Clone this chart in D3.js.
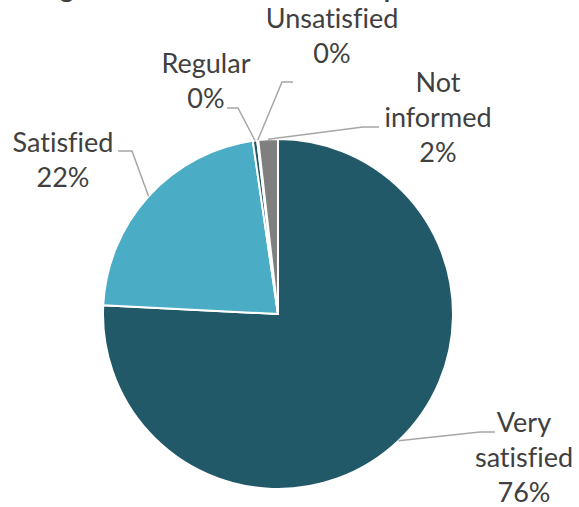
<!DOCTYPE html>
<html>
<head>
<meta charset="utf-8">
<script src="https://cdn.jsdelivr.net/npm/d3@7"></script>
<style>
  html, body { margin: 0; padding: 0; background: #fff; }
  svg { display: block; }
  text { font-variant-ligatures: none; font-feature-settings: "liga" 0; }
</style>
</head>
<body>
<svg id="chart" width="579" height="507"></svg>
<script>
// ---- data ----
const categories = ["Very satisfied", "Satisfied", "Regular", "Unsatisfied", "Not informed"];
const values = [75.8, 21.9, 0.4, 0.1, 1.8];
const colors = ["#215968", "#4bacc6", "#215968", "#a5a5a5", "#7f7f7f"];
const labelLines = [["Very", "satisfied"], ["Satisfied"], ["Regular"], ["Unsatisfied"], ["Not", "informed"]];
const titleText = "Degree of satisfaction with the process";

// ---- layout (label placement) ----
const labelCenter = [[524, 432], [63, 152], [206, 73], [332, 28], [438, 92]];
const leaderStart = [[495, 432], [118, 151], [227, 108], [293, 82], [379, 127]];
const leaderElbow = [480, 132, 238, 282, 363];

const W = 579, H = 507;
const cx = 278, cy = 314, R = 175;
const lineH = 35;
const font = "Lato, 'Open Sans', sans-serif";
const textColor = "#404040";

const svg = d3.select("#chart");

// Title (mostly above the visible frame, as in the reference)
const title = svg.append("text")
  .attr("font-family", font)
  .attr("font-weight", "bold")
  .attr("font-size", 30)
  .attr("fill", textColor)
  .attr("x", 0).attr("y", -2)
  .text(titleText);
(function fitTitle() {
  const node = title.node();
  const gi = titleText.indexOf("g");
  const pi = titleText.indexOf("p");
  const gx = node.getStartPositionOfChar(gi).x;
  const px = node.getStartPositionOfChar(pi).x;
  const scale = (390 - 66) / (px - gx);
  title.attr("font-size", 30 * scale);
  const gx2 = node.getStartPositionOfChar(gi).x;
  title.attr("x", 60 - gx2);
})();

const total = d3.sum(values);
const pie = d3.pie().sort(null).value(d => d);
const arcs = pie(values);
const arc = d3.arc().innerRadius(0).outerRadius(R);

const g = svg.append("g").attr("transform", `translate(${cx},${cy})`);

g.selectAll("path.slice")
  .data(arcs)
  .join("path")
  .attr("class", "slice")
  .attr("d", arc)
  .attr("fill", (d, i) => colors[i])
  .attr("stroke", "#fff")
  .attr("stroke-width", 2)
  .attr("stroke-linejoin", "round");

// leader lines
const edgePoint = d => {
  const a = (d.startAngle + d.endAngle) / 2;
  return [cx + R * Math.sin(a), cy - R * Math.cos(a)];
};

svg.selectAll("polyline.leader")
  .data(arcs)
  .join("polyline")
  .attr("class", "leader")
  .attr("points", (d, i) => {
    const p = edgePoint(d);
    const s = leaderStart[i];
    return [s, [leaderElbow[i], s[1]], p].map(q => q.join(",")).join(" ");
  })
  .attr("fill", "none")
  .attr("stroke", "#a6a6a6")
  .attr("stroke-width", 1.5);

// labels
const labels = svg.selectAll("text.label")
  .data(arcs)
  .join("text")
  .attr("class", "label")
  .attr("font-family", font)
  .attr("font-size", 27)
  .attr("fill", textColor)
  .attr("text-anchor", "middle");

labels.each(function (d, i) {
  const t = d3.select(this);
  const lines = labelLines[i].concat([Math.round(d.data / total * 100) + "%"]);
  lines.forEach((ln, k) => {
    t.append("tspan")
      .attr("x", labelCenter[i][0])
      .attr("y", labelCenter[i][1] + k * lineH)
      .text(ln);
  });
});
</script>
</body>
</html>
